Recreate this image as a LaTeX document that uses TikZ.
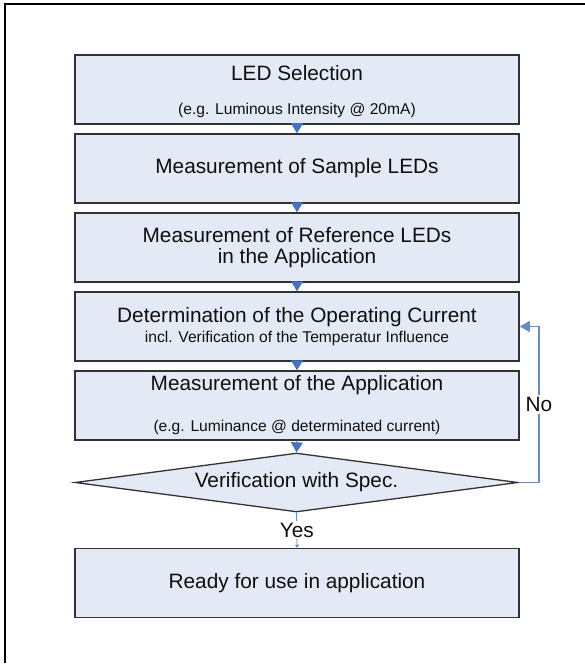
\documentclass[tikz,border=0pt]{standalone}
\usepackage{fontspec}
\setmainfont{Liberation Sans}
\usetikzlibrary{arrows.meta,shapes.geometric,calc}
\definecolor{boxfill}{RGB}{228,234,245}
\definecolor{boxline}{RGB}{50,50,50}
\definecolor{flowblue}{RGB}{68,114,196}
\definecolor{loopblue}{RGB}{100,140,200}
\definecolor{txt}{RGB}{15,15,15}
\newcommand{\bigtxt}{\fontsize{20.8}{24}\selectfont}
\newcommand{\smalltxt}{\fontsize{15.6}{18}\selectfont}
\tikzset{
  stepbox/.style={draw=boxline, fill=boxfill, line width=1.5pt, minimum width=444pt, minimum height=69pt, inner sep=0pt, text=txt, font=\bigtxt},
  decbox/.style={diamond, draw=boxline, fill=boxfill, line width=1.3pt, minimum width=443pt, minimum height=59pt, shape aspect=7.5, inner sep=0pt, text=txt, font=\bigtxt},
  bigline/.style={text=txt, font=\bigtxt, inner sep=0pt},
  smallline/.style={text=txt, font=\smalltxt, inner sep=0pt},
  flowarrow/.style={draw=flowblue, line width=1pt, -{Triangle[length=10pt,width=12pt]}, fill=flowblue},
  yesarrow/.style={draw=loopblue, line width=0.8pt, -{Triangle[length=3pt,width=4pt]}},
  looparrow/.style={draw=loopblue, line width=1.6pt, -{Triangle[length=10pt,width=11pt]}},
  edgelabel/.style={fill=white, text=txt, font=\bigtxt, inner sep=2pt}
}
\begin{document}
\begin{tikzpicture}[x=1pt,y=-1pt]
\useasboundingbox (0,0) rectangle (585,666);
% frame
\draw[line width=2.5pt, black] (5,663) -- (5,4) -- (585,4);
% boxes
\node[stepbox] (b1) at (297,89.5) {};
\node[stepbox] (b2) at (297,168.5) {Measurement of Sample LEDs};
\node[stepbox] (b3) at (297,247.5) {};
\node[stepbox] (b4) at (297,326.5) {};
\node[stepbox] (b5) at (297,405.5) {};
\node[decbox] (d) at (296.5,482.5) {Verification with Spec.};
\node[stepbox] (b6) at (297,583) {Ready for use in application};
% texts
\node[bigline] (t1a) at (297,73) {LED Selection};
\node[smallline] (t1b) at (297,110) {(e.g. Luminous Intensity @ 20mA)};
\node[bigline] (t3a) at (297,235) {Measurement of Reference LEDs};
\node[bigline] (t3b) at (297,258) {in the Application};
\node[bigline] (t4a) at (297,317) {Determination of the Operating Current};
\node[smallline] (t4b) at (297,338) {incl. Verification of the Temperatur Influence};
\node[bigline] (t5a) at (297,385) {Measurement of the Application};
\node[smallline] (t5b) at (297,427) {(e.g. Luminance @ determinated current)};
% arrows
\draw[flowarrow] (b1.south) -- (b2.north);
\draw[flowarrow] (b2.south) -- (b3.north);
\draw[flowarrow] (b3.south) -- (b4.north);
\draw[flowarrow] (b4.south) -- (b5.north);
\draw[flowarrow] (b5.south) -- (d.north);
\draw[yesarrow] (d.south) -- node[edgelabel] (yes) {Yes} (b6.north);
\coordinate (c1) at (539,482.5);
\coordinate (c2) at (539,326.5);
\draw[looparrow] (d.east) -- (c1) -- node[edgelabel] (no) {No} (c2) -- (b4.east);
\end{tikzpicture}
\end{document}
